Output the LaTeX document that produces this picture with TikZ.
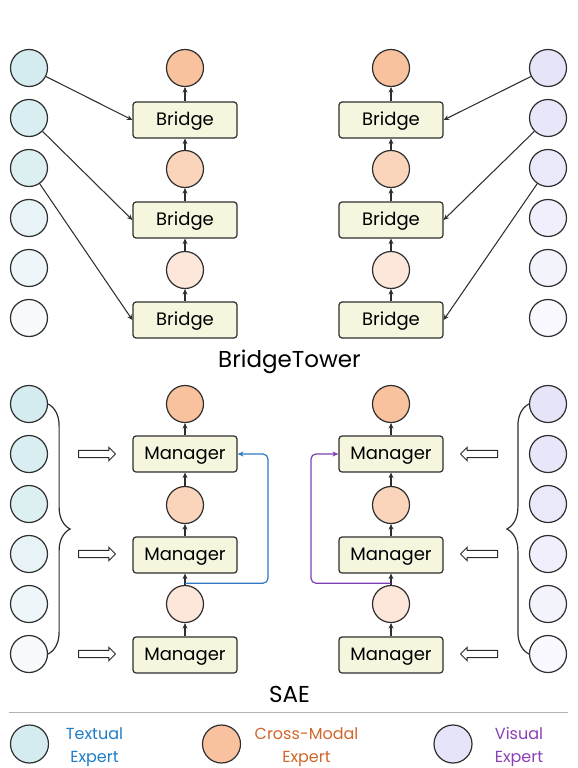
\documentclass[tikz,border=0pt]{standalone}
\usepackage{fontspec}
\setmainfont{Poppins}
\usetikzlibrary{arrows.meta,shapes.arrows,decorations.pathreplacing,calc}

\definecolor{linegray}{HTML}{2E2E2E}
\definecolor{boxfill}{HTML}{F6F6DF}
\definecolor{txtA}{HTML}{D4ECEF}
\definecolor{txtB}{HTML}{D8EEF1}
\definecolor{txtC}{HTML}{DCF0F2}
\definecolor{txtD}{HTML}{E7F3F6}
\definecolor{txtE}{HTML}{EEF6F9}
\definecolor{txtF}{HTML}{F6FAFB}
\definecolor{visA}{HTML}{E6E4F8}
\definecolor{visB}{HTML}{E8E6F9}
\definecolor{visC}{HTML}{EAE9F9}
\definecolor{visD}{HTML}{F0EFFB}
\definecolor{visE}{HTML}{F3F3FC}
\definecolor{visF}{HTML}{F8F8FE}
\definecolor{crossA}{HTML}{F9C29E}
\definecolor{crossB}{HTML}{FBD5BB}
\definecolor{crossC}{HTML}{FDE6DA}
\definecolor{bluelink}{HTML}{3079C2}
\definecolor{purplelink}{HTML}{7C3DB2}
\definecolor{txtlabel}{HTML}{1E7CC6}
\definecolor{crosslabel}{HTML}{CF662B}
\definecolor{vislabel}{HTML}{8B3FB5}

\begin{document}
\begin{tikzpicture}[x=1pt,y=-1pt,
  expert/.style={circle,draw=linegray,line width=1.2pt,minimum size=37pt,inner sep=0pt},
  block/.style={draw=linegray,fill=boxfill,rounded corners=3pt,line width=1.2pt,
    minimum width=104pt,minimum height=36pt,inner sep=0pt,text height=11pt,text depth=0pt,
    font=\fontsize{18}{20}\selectfont},
  link/.style={-{Stealth[length=5.5pt,width=5pt]},line width=1.05pt,draw=linegray},
  skip/.style={-{Stealth[length=6pt,width=5pt]},line width=1.2pt,rounded corners=5pt},
  feed/.style={single arrow,draw=linegray,fill=white,line width=1pt,
    minimum height=37pt,inner xsep=0pt,inner ysep=3.2pt,single arrow head extend=3pt},
  title/.style={font=\fontsize{23}{26}\selectfont,anchor=base},
  legend/.style={font=\fontsize{16}{23}\selectfont,align=center,anchor=base}
]
\useasboundingbox (0,0) rectangle (578,768);

% ---------------- BridgeTower ----------------
% textual experts (left) and visual experts (right)
\foreach \i/\c in {1/txtA,2/txtB,3/txtC,4/txtD,5/txtE,6/txtF}
  \node[expert,fill=\c] (t\i) at (29,{18+50*\i}) {};
\foreach \i/\c in {1/visA,2/visB,3/visC,4/visD,5/visE,6/visF}
  \node[expert,fill=\c] (v\i) at (548,{18+50*\i}) {};

% left tower
\node[expert,fill=crossA] (lc1) at (185,68) {};
\node[block] (lb1) at (185,120) {Bridge};
\node[expert,fill=crossB] (lc2) at (185,169) {};
\node[block] (lb2) at (185,220) {Bridge};
\node[expert,fill=crossC] (lc3) at (185,270) {};
\node[block] (lb3) at (185,320) {Bridge};

% right tower
\node[expert,fill=crossA] (rc1) at (391,68) {};
\node[block] (rb1) at (391,120) {Bridge};
\node[expert,fill=crossB] (rc2) at (391,169) {};
\node[block] (rb2) at (391,220) {Bridge};
\node[expert,fill=crossC] (rc3) at (391,270) {};
\node[block] (rb3) at (391,320) {Bridge};

\foreach \s in {l,r}{
  \draw[link] (\s b1.north) -- (\s c1.south);
  \draw[link] (\s c2.north) -- (\s b1.south);
  \draw[link] (\s b2.north) -- (\s c2.south);
  \draw[link] (\s c3.north) -- (\s b2.south);
  \draw[link] (\s b3.north) -- (\s c3.south);
}

\draw[link] (t1) -- (lb1.west);
\draw[link] (t2) -- (lb2.west);
\draw[link] (t3) -- (lb3.west);
\draw[link] (v1) -- (rb1.east);
\draw[link] (v2) -- (rb2.east);
\draw[link] (v3) -- (rb3.east);

\node[title] (bttitle) at (289.5,367) {BridgeTower};

% ---------------- SAE ----------------
\foreach \i/\c in {1/txtA,2/txtB,3/txtC,4/txtD,5/txtE,6/txtF}
  \node[expert,fill=\c] (st\i) at (29,{354+50*\i}) {};
\foreach \i/\c in {1/visA,2/visB,3/visC,4/visD,5/visE,6/visF}
  \node[expert,fill=\c] (sv\i) at (548,{354+50*\i}) {};

\node[expert,fill=crossA] (bc1) at (185,404) {};
\node[block] (bm1) at (185,454) {Manager};
\node[expert,fill=crossB] (bc2) at (185,505) {};
\node[block] (bm2) at (185,555) {Manager};
\node[expert,fill=crossC] (bc3) at (185,604) {};
\node[block] (bm3) at (185,655) {Manager};

\node[expert,fill=crossA] (cc1) at (391,404) {};
\node[block] (cm1) at (391,454) {Manager};
\node[expert,fill=crossB] (cc2) at (391,505) {};
\node[block] (cm2) at (391,555) {Manager};
\node[expert,fill=crossC] (cc3) at (391,604) {};
\node[block] (cm3) at (391,655) {Manager};

\foreach \s/\m in {b/bm,c/cm}{
  \draw[link] (\m1.north) -- (\s c1.south);
  \draw[link] (\s c2.north) -- (\m1.south);
  \draw[link] (\m2.north) -- (\s c2.south);
  \draw[link] (\s c3.north) -- (\m2.south);
  \draw[link] (\m3.north) -- (\s c3.south);
}

% braces gathering all experts of one modality
\draw[linegray,line width=1.2pt,decorate,decoration={brace,amplitude=22pt}]
  (st1.east) -- (st6.east);
\draw[linegray,line width=1.2pt,decorate,decoration={brace,amplitude=22pt}]
  (sv6.west) -- (sv1.west);

% hollow feed arrows into the managers
\foreach \i in {1,2,3}{
  \node[feed,anchor=tail] (fl\i) at (78,{354+100*\i}) {};
  \node[feed,anchor=tail,shape border rotate=180] (fr\i) at (498,{354+100*\i}) {};
}

% skip connections from the lowest cross-modal output
\coordinate (bsplit) at ($(bc3.north)!0.15!(bm2.south)$);
\coordinate (csplit) at ($(cc3.north)!0.15!(cm2.south)$);
\draw[skip,bluelink] (bsplit) -- ++(83,0) |- (bm1.east);
\draw[skip,purplelink] (csplit) -- ++(-80,0) |- (cm1.west);

\node[title] (saetitle) at (289.5,702) {SAE};

% ---------------- legend ----------------
\draw[gray!60,line width=0.8pt] (9,712) coordinate (rulel) -- (568,712) coordinate (ruler);
\node[expert,fill=txtA,minimum size=38pt] (lgt) at (29.5,744) {};
\node[expert,fill=crossA,minimum size=38pt] (lgc) at (221.5,744) {};
\node[expert,fill=visA,minimum size=38pt] (lgv) at (453,744) {};
\node[legend,text=txtlabel] (lgtl) at (94.5,762) {Textual\\Expert};
\node[legend,text=crosslabel] (lgcl) at (306.5,762) {Cross-Modal\\Expert};
\node[legend,text=vislabel] (lgvl) at (519,762) {Visual\\Expert};
\end{tikzpicture}
\end{document}
